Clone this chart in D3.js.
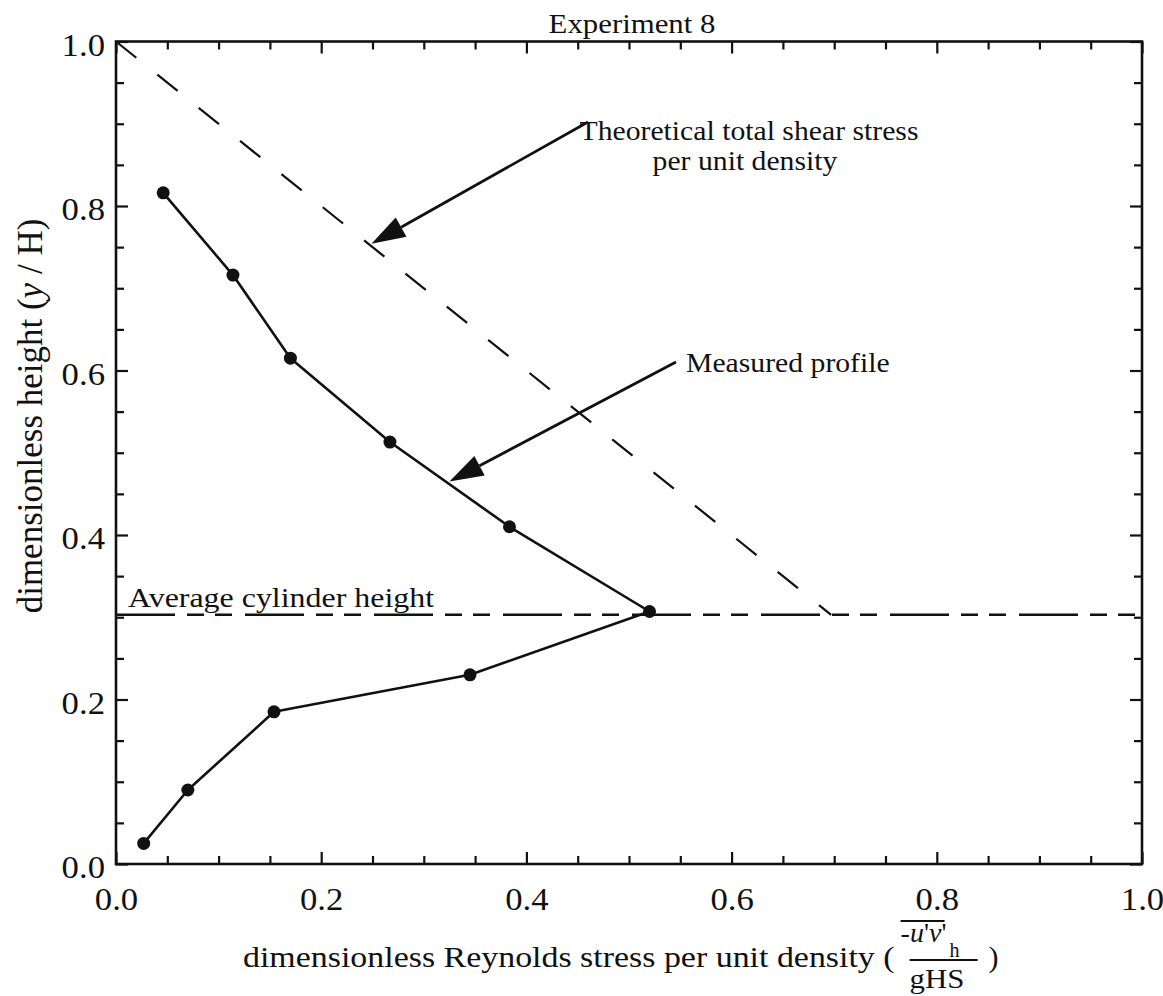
<!DOCTYPE html>
<html>
<head>
<meta charset="utf-8">
<script src="https://cdn.jsdelivr.net/npm/d3@7"></script>
<style>
  body { margin: 0; background: #fff; }
  text { font-family: "Liberation Serif", "Times New Roman", serif; fill: #111; }
</style>
</head>
<body>
<svg id="chart" width="1163" height="996"></svg>
<script>
// ---- data ----
const chartTitle = "Experiment 8";
const majorTicks = [0, 0.2, 0.4, 0.6, 0.8, 1.0];
const minorTicks = d3.range(0, 1.0001, 0.05);
// measured Reynolds stress profile, ordered from the bed upward
const profileX = [0.027, 0.070, 0.154, 0.345, 0.520, 0.3835, 0.267, 0.170, 0.114, 0.046];
const profileY = [0.025, 0.090, 0.185, 0.230, 0.307, 0.410, 0.513, 0.615, 0.716, 0.816];
// theoretical total shear stress (linear), drawn down to the cylinder height
const theoryX = [0, 0.697];
const theoryY = [1, 0.303];
const cylinderHeight = 0.303;

// ---- layout ----
const svg = d3.select("#chart");
const padL = 116, padR = 1142, padT = 41.5, padB = 864;
const x = d3.scaleLinear().domain([0, 1]).range([padL, padR]);
const y = d3.scaleLinear().domain([0, 1]).range([padB, padT]);
const ink = "#111";

svg.append("rect").attr("width", 1163).attr("height", 996).attr("fill", "#fff");

// widen glyphs horizontally (the typeface is set a little wide)
function stretch(sel, k) {
  sel.each(function () {
    const w = this.getComputedTextLength();
    this.setAttribute("textLength", w * k);
    this.setAttribute("lengthAdjust", "spacingAndGlyphs");
  });
}

// ---- axes: ticks point inward on all four sides ----
function tickAxis(axisFn, transform, values, size, labels) {
  const g = svg.append("g").attr("transform", transform)
    .call(axisFn.tickValues(values).tickSizeInner(size).tickSizeOuter(0)
      .tickFormat(labels ? d3.format(".1f") : () => ""));
  g.select(".domain").remove();
  g.selectAll(".tick line").attr("stroke", ink).attr("stroke-width", 2.2);
  return g;
}
const minorOnly = minorTicks.filter(v => !majorTicks.some(m => Math.abs(m - v) < 1e-6));
tickAxis(d3.axisBottom(x), `translate(0,${padB})`, minorOnly, -8, false);
tickAxis(d3.axisTop(x), `translate(0,${padT})`, minorOnly, -8, false);
tickAxis(d3.axisLeft(y), `translate(${padL},0)`, minorOnly, -8, false);
tickAxis(d3.axisRight(y), `translate(${padR},0)`, minorOnly, -8, false);
const xb = tickAxis(d3.axisBottom(x), `translate(0,${padB})`, majorTicks, -12, true);
tickAxis(d3.axisTop(x), `translate(0,${padT})`, majorTicks, -12, false);
const yl = tickAxis(d3.axisLeft(y), `translate(${padL},0)`, majorTicks, -12, true);
tickAxis(d3.axisRight(y), `translate(${padR},0)`, majorTicks, -12, false);

xb.selectAll(".tick text").attr("y", 46).attr("dy", 0)
  .attr("font-size", 31).attr("font-family", "Liberation Serif").attr("fill", ink)
  .call(stretch, 1.12);
yl.selectAll(".tick text").attr("x", -11).attr("dy", "0.45em")
  .attr("font-size", 31).attr("font-family", "Liberation Serif").attr("fill", ink)
  .call(stretch, 1.12);

// frame
svg.append("rect")
  .attr("x", padL).attr("y", padT)
  .attr("width", padR - padL).attr("height", padB - padT)
  .attr("fill", "none").attr("stroke", ink).attr("stroke-width", 2.6);

// ---- reference lines ----
const line = d3.line().x(d => x(d[0])).y(d => y(d[1]));

svg.append("path")
  .datum([[0, cylinderHeight], [1, cylinderHeight]])
  .attr("d", line)
  .attr("fill", "none").attr("stroke", ink).attr("stroke-width", 2.4)
  .attr("stroke-dasharray", "59,12,17,11,17,13");

svg.append("path")
  .datum(d3.zip(theoryX, theoryY))
  .attr("d", line)
  .attr("fill", "none").attr("stroke", ink).attr("stroke-width", 2.2)
  .attr("stroke-dasharray", "26,27");

// ---- measured profile ----
const profile = d3.zip(profileX, profileY);
svg.append("path")
  .datum(profile)
  .attr("d", line)
  .attr("fill", "none").attr("stroke", ink).attr("stroke-width", 2.6)
  .attr("stroke-linejoin", "round");
svg.append("g").selectAll("circle")
  .data(profile).join("circle")
  .attr("cx", d => x(d[0])).attr("cy", d => y(d[1]))
  .attr("r", 6.5).attr("fill", ink);

// ---- annotations ----
function arrow(x1, y1, x2, y2) {
  const a = Math.atan2(y2 - y1, x2 - x1);
  const L = 34, W = 11;
  const bx = x2 - L * Math.cos(a), by = y2 - L * Math.sin(a);
  svg.append("line").attr("x1", x1).attr("y1", y1).attr("x2", bx).attr("y2", by)
    .attr("stroke", ink).attr("stroke-width", 2.8);
  svg.append("path")
    .attr("d", `M${x2},${y2}L${bx + W * Math.sin(a)},${by - W * Math.cos(a)}L${bx - W * Math.sin(a)},${by + W * Math.cos(a)}Z`)
    .attr("fill", ink);
}

const ann = svg.append("g").attr("font-size", 27);
ann.append("text").attr("x", 749).attr("y", 140).attr("text-anchor", "middle")
  .text("Theoretical total shear stress").call(stretch, 1.1);
ann.append("text").attr("x", 745).attr("y", 170).attr("text-anchor", "middle")
  .text("per unit density").call(stretch, 1.1);
ann.append("text").attr("x", 686).attr("y", 372)
  .text("Measured profile").call(stretch, 1.1);
ann.append("text").attr("x", 128).attr("y", 607).attr("font-size", 28)
  .text("Average cylinder height").call(stretch, 1.14);

arrow(588, 122, x(0.249), y(0.754));
arrow(676, 362, x(0.325), y(0.465));

// ---- title ----
svg.append("text").attr("x", 632).attr("y", 33).attr("text-anchor", "middle")
  .attr("font-size", 28).text(chartTitle).call(stretch, 1.1);

// ---- axis titles ----
svg.append("text")
  .attr("transform", "translate(42,416) rotate(-90)")
  .attr("text-anchor", "middle").attr("font-size", 35)
  .call(t => {
    t.append("tspan").text("dimensionless height (");
    t.append("tspan").attr("font-style", "italic").text("y");
    t.append("tspan").text(" / H)");
  });

const xl = svg.append("text").attr("x", 243).attr("y", 967).attr("font-size", 30)
  .text("dimensionless Reynolds stress per unit density (").call(stretch, 1.13);
const xlEnd = 243 + (+xl.attr("textLength"));
const frac = svg.append("g").attr("transform", `translate(${xlEnd},0)`).attr("font-size", 28);
frac.append("line").attr("x1", 15).attr("x2", 83).attr("y1", 960).attr("y2", 960)
  .attr("stroke", ink).attr("stroke-width", 2);
frac.append("line").attr("x1", 6).attr("x2", 50).attr("y1", 921).attr("y2", 921)
  .attr("stroke", ink).attr("stroke-width", 2);
frac.append("text").attr("x", 6).attr("y", 942)
  .call(t => {
    t.append("tspan").text("-");
    t.append("tspan").attr("font-style", "italic").text("u");
    t.append("tspan").text("'");
    t.append("tspan").attr("font-style", "italic").text("v");
    t.append("tspan").text("'");
  });
frac.append("text").attr("x", 55).attr("y", 957).attr("font-size", 20).text("h");
frac.append("text").attr("x", 15).attr("y", 988).attr("font-size", 28).text("gHS").call(stretch, 1.1);
frac.append("text").attr("x", 94).attr("y", 967).attr("font-size", 30).text(")");
</script>
</body>
</html>
